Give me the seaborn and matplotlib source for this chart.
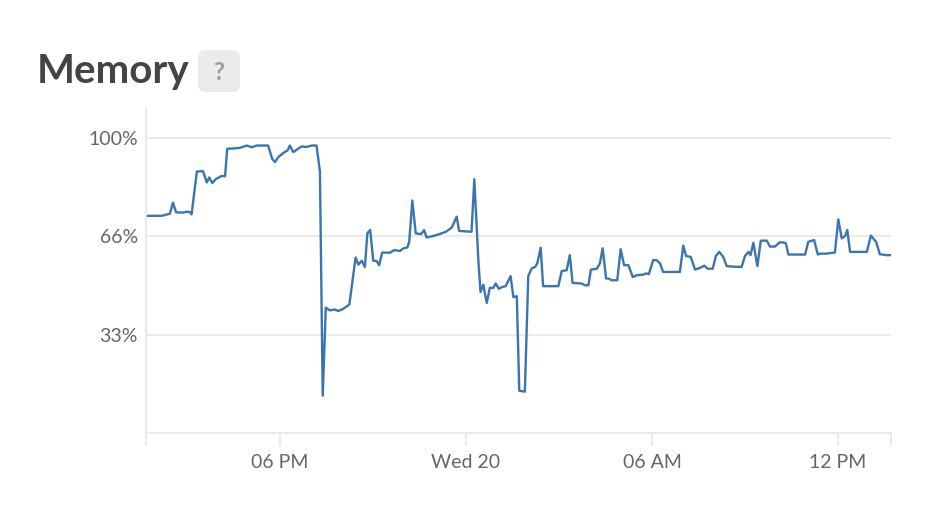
import numpy as np
import pandas as pd
import seaborn as sns
import matplotlib.pyplot as plt
from matplotlib.patches import FancyBboxPatch

# hours relative to Wed 20 00:00, memory in percent
hours = [-10.30, -9.82, -9.71, -9.55, -9.45, -9.35, -9.13, -9.00, -8.90, -8.85,
         -8.68, -8.48, -8.36, -8.28, -8.18, -8.06, -7.88, -7.77, -7.70, -7.51,
         -7.29, -7.07, -6.91, -6.75, -6.38, -6.25, -6.16, -6.05, -5.89, -5.75,
         -5.68, -5.57, -5.30, -5.14, -4.98, -4.82, -4.71, -4.62, -4.52, -4.39,
         -4.23, -4.12, -3.96, -3.76, -3.56, -3.47, -3.36, -3.26, -3.18, -3.09,
         -2.99, -2.88, -2.80, -2.70, -2.45, -2.32, -2.13, -2.02, -1.89, -1.83,
         -1.73, -1.62, -1.45, -1.35, -1.27, -1.05, -0.89, -0.78, -0.65, -0.46,
         -0.30, -0.22, 0.18, 0.27, 0.40, 0.47, 0.56, 0.67, 0.77, 0.88,
         0.96, 1.06, 1.17, 1.28, 1.44, 1.53, 1.64, 1.72, 1.90, 2.01,
         2.12, 2.23, 2.30, 2.41, 2.49, 2.76, 2.98, 3.09, 3.25, 3.35,
         3.44, 3.73, 3.84, 3.95, 4.03, 4.22, 4.32, 4.41, 4.52, 4.59,
         4.70, 4.88, 4.99, 5.10, 5.24, 5.38, 5.51, 5.72, 5.81, 5.90,
         6.04, 6.15, 6.26, 6.36, 6.58, 6.90, 7.01, 7.10, 7.25, 7.39,
         7.55, 7.69, 7.80, 7.96, 8.06, 8.17, 8.30, 8.41, 8.62, 8.89,
         9.00, 9.11, 9.18, 9.27, 9.40, 9.51, 9.70, 9.81, 9.97, 10.11,
         10.24, 10.32, 10.40, 10.67, 10.94, 11.04, 11.23, 11.35, 11.42, 11.61,
         11.90, 12.01, 12.12, 12.23, 12.30, 12.39, 12.93, 13.06, 13.23, 13.35,
         13.57, 13.73]

memory = [73.5, 73.5, 73.8, 74.2, 78.0, 74.7, 74.6, 74.9, 74.7, 74.0,
          88.5, 88.6, 84.8, 86.5, 84.6, 86.0, 87.0, 86.9, 96.2, 96.3,
          96.5, 97.3, 96.7, 97.3, 97.3, 92.8, 91.7, 93.4, 94.8, 95.7,
          97.3, 95.1, 97.0, 96.8, 97.3, 97.3, 88.5, 12.6, 42.4, 41.5,
          41.8, 41.3, 42.0, 43.5, 59.4, 57.0, 58.3, 56.2, 67.6, 68.7,
          58.3, 58.2, 56.8, 61.1, 61.0, 61.9, 61.6, 62.5, 62.8, 64.7,
          78.7, 67.6, 67.3, 68.7, 66.2, 66.7, 67.2, 67.6, 68.1, 69.5,
          73.2, 68.4, 68.1, 85.9, 58.5, 47.7, 50.2, 44.0, 49.1, 49.1,
          50.6, 48.8, 49.4, 49.7, 53.1, 46.0, 46.3, 14.3, 14.0, 53.1,
          55.7, 56.2, 57.4, 62.7, 49.7, 49.7, 49.7, 54.8, 55.1, 60.2,
          50.8, 50.6, 50.0, 50.0, 55.3, 55.6, 57.4, 62.5, 52.3, 52.3,
          51.7, 51.7, 62.2, 56.8, 56.8, 52.8, 53.4, 53.6, 54.0, 53.8,
          58.5, 58.5, 57.4, 54.5, 54.5, 54.5, 63.4, 59.9, 59.6, 55.3,
          55.9, 56.6, 55.6, 55.6, 59.9, 61.3, 59.6, 56.5, 56.3, 56.2,
          59.9, 61.3, 60.2, 64.4, 56.5, 65.1, 65.1, 63.1, 63.1, 64.5,
          64.5, 64.2, 60.4, 60.4, 60.4, 64.7, 65.3, 60.4, 60.7, 60.7,
          61.1, 72.3, 65.9, 66.7, 68.7, 61.3, 61.3, 66.8, 64.7, 60.5,
          60.2, 60.2]

tick_hours = [-10.32, -6, 0, 6, 12, 13.71]
tick_labels = ['', '06 PM', 'Wed 20', '06 AM', '12 PM', '']
y_ticks = [100 / 3, 200 / 3, 100]
y_labels = ['33%', '66%', '100%']

base = pd.Timestamp('2019-11-20 00:00')
df = pd.DataFrame({'time': base + pd.to_timedelta(hours, unit='h'),
                   'memory': memory})

sns.set_style('white')
plt.rcParams['font.family'] = ['Lato', 'DejaVu Sans']

fig = plt.figure(figsize=(9.52, 5.16), dpi=100)
ax = fig.add_axes([146 / 952, 83 / 516, 745 / 952, 325 / 516])

sns.lineplot(data=df, x='time', y='memory', ax=ax, color='#3a75b0', linewidth=1.7)

ax.set_xlim(base + pd.Timedelta(hours=tick_hours[0]), base + pd.Timedelta(hours=tick_hours[-1]))
ax.set_ylim(0, 110)
ax.set_xticks([base + pd.Timedelta(hours=h) for h in tick_hours])
ax.set_xticklabels(tick_labels)
ax.set_yticks(y_ticks)
ax.set_yticklabels(y_labels)
ax.set_xlabel('')
ax.set_ylabel('')

ax.grid(axis='y', color='#e8e8e8', linewidth=1.3)
ax.set_axisbelow(True)
for side in ['top', 'right']:
    ax.spines[side].set_visible(False)
for side in ['left', 'bottom']:
    ax.spines[side].set_color('#e8e8e8')
    ax.spines[side].set_linewidth(1.3)
ax.tick_params(axis='x', bottom=True, length=9, width=1.3, color='#e8e8e8', pad=6,
               labelsize=14, labelcolor='#666666')
ax.tick_params(axis='y', left=False, length=0, pad=6, labelsize=14, labelcolor='#666666')

fig.text(37 / 952, 1 - 72 / 516, 'Memory', fontsize=29, fontweight='bold',
         color='#444444', va='center', ha='left')
badge = FancyBboxPatch((198 / 952, 1 - 92 / 516), 42 / 952, 42 / 516,
                       boxstyle='round,pad=0,rounding_size=0.008',
                       transform=fig.transFigure, facecolor='#ebebeb',
                       edgecolor='none', mutation_aspect=952 / 516)
fig.patches.append(badge)
fig.text(219 / 952, 1 - 72 / 516, '?', fontsize=17, fontweight='bold',
         color='#9a9a9a', va='center', ha='center')

fig.savefig('out.png', dpi=100)
